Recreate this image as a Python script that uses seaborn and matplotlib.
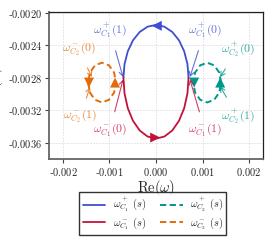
import matplotlib
matplotlib.use("Agg")
import matplotlib.pyplot as plt
import matplotlib.ticker as mticker
import seaborn as sns

# omega_C1^+ (s): upper arc, s=0 at right junction -> s=1 at left junction
c1p_re = [0.00070, 0.000676, 0.000606, 0.000495, 0.00035, 0.000181, 0.0,
          -0.000181, -0.00035, -0.000495, -0.000606, -0.000676, -0.00070]
c1p_im = [-0.00280, -0.002632, -0.002475, -0.00234, -0.002237, -0.002172, -0.00215,
          -0.002172, -0.002237, -0.00234, -0.002475, -0.002632, -0.00280]

# omega_C1^- (s): lower arc, s=0 at left junction -> s=1 at right junction
c1m_re = [-0.00070, -0.000676, -0.000606, -0.000495, -0.00035, -0.000181, 0.0,
          0.000181, 0.00035, 0.000495, 0.000606, 0.000676, 0.00070]
c1m_im = [-0.00280, -0.002994, -0.003175, -0.00333, -0.00345, -0.003524, -0.00355,
          -0.003524, -0.00345, -0.00333, -0.003175, -0.002994, -0.00280]

# omega_C2^+ (s): small loop on the right
c2p_re = [0.00140, 0.00136, 0.00125, 0.00110, 0.00095, 0.00084, 0.00080,
          0.00084, 0.00095, 0.00110, 0.00125, 0.00136, 0.00140]
c2p_im = [-0.00286, -0.002737, -0.002648, -0.002615, -0.002648, -0.002737, -0.00286,
          -0.002983, -0.003072, -0.003105, -0.003072, -0.002983, -0.00286]

# omega_C2^- (s): small loop on the left
c2m_re = [-0.00146, -0.00142, -0.00131, -0.00116, -0.00101, -0.00090, -0.00086,
          -0.00090, -0.00101, -0.00116, -0.00131, -0.00142, -0.00146]
c2m_im = [-0.00286, -0.002983, -0.003072, -0.003105, -0.003072, -0.002983, -0.00286,
          -0.002737, -0.002648, -0.002615, -0.002648, -0.002737, -0.00286]

x_ticks = [-0.002, -0.001, 0.0, 0.001, 0.002]
y_ticks = [-0.0036, -0.0032, -0.0028, -0.0024, -0.0020]

BLUE = "#3f4fce"
RED = "#c3123a"
TEAL = "#00978c"
ORANGE = "#e36c0a"

sns.set_theme(style="whitegrid")
plt.rcParams["font.family"] = ["DejaVu Serif"]
plt.rcParams["mathtext.fontset"] = "cm"

fig = plt.figure(figsize=(2.72, 2.43), dpi=100)
ax = fig.add_axes([0.180, 0.346, 0.787, 0.605])

sns.lineplot(x=c1p_re, y=c1p_im, sort=False, estimator=None, color=BLUE, lw=1.3, ax=ax)
sns.lineplot(x=c1m_re, y=c1m_im, sort=False, estimator=None, color=RED, lw=1.3, ax=ax)
sns.lineplot(x=c2p_re, y=c2p_im, sort=False, estimator=None, color=TEAL, lw=1.4,
             linestyle=(0, (3.2, 1.8)), ax=ax)
sns.lineplot(x=c2m_re, y=c2m_im, sort=False, estimator=None, color=ORANGE, lw=1.4,
             linestyle=(0, (3.2, 1.8)), ax=ax)


def head(xs, ys, i, prev, color):
    # arrowhead at point i, pointing along the curve
    tail = ((xs[prev] + xs[i]) / 2, (ys[prev] + ys[i]) / 2)
    tip = ((xs[i] + xs[i + 1]) / 2, (ys[i] + ys[i + 1]) / 2)
    ax.annotate("", xy=tip, xytext=tail,
                arrowprops=dict(arrowstyle="-|>,head_length=0.6,head_width=0.3",
                                color=color, lw=0, mutation_scale=12,
                                shrinkA=0, shrinkB=0))


head(c1p_re, c1p_im, 6, 5, BLUE)
head(c1m_re, c1m_im, 6, 5, RED)
head(c2p_re, c2p_im, 0, -2, TEAL)
head(c2p_re, c2p_im, 6, 5, TEAL)
head(c2m_re, c2m_im, 0, -2, ORANGE)
head(c2m_re, c2m_im, 6, 5, ORANGE)

# labels with pointer arrows
notes = [
    (r"$\omega^+_{C_1}(1)$", (-0.00071, -0.00279), (-0.00099, -0.00222), BLUE),
    (r"$\omega^+_{C_1}(0)$", (0.00073, -0.00279), (0.00105, -0.00222), BLUE),
    (r"$\omega^-_{C_1}(0)$", (-0.00071, -0.002825), (-0.00099, -0.00345), RED),
    (r"$\omega^-_{C_1}(1)$", (0.00073, -0.002825), (0.00105, -0.00345), RED),
    (r"$\omega^-_{C_2}(0)$", (-0.00138, -0.00279), (-0.00166, -0.002455), ORANGE),
    (r"$\omega^-_{C_2}(1)$", (-0.00142, -0.00292), (-0.00163, -0.00328), ORANGE),
    (r"$\omega^+_{C_2}(0)$", (0.00138, -0.00279), (0.00176, -0.002455), TEAL),
    (r"$\omega^+_{C_2}(1)$", (0.00138, -0.00291), (0.00176, -0.00328), TEAL),
]
for txt, tip, pos, col in notes:
    ax.annotate(txt, xy=tip, xytext=pos, ha="center", va="center", fontsize=8.5,
                color=col, alpha=0.8,
                arrowprops=dict(arrowstyle="->,head_length=0.35,head_width=0.2",
                                color=col, alpha=0.8, lw=0.8,
                                shrinkA=5, shrinkB=0))

ax.set_xlim(-0.0023, 0.0023)
ax.set_ylim(-0.0038, -0.00199)
ax.set_xticks(x_ticks)
ax.set_yticks(y_ticks)


def fmt(v, d):
    s = f"{abs(v):.{d}f}"
    return ("-" if v < -1e-12 else "") + f"${s}$"


ax.xaxis.set_major_formatter(mticker.FuncFormatter(lambda v, p: fmt(v, 3)))
ax.yaxis.set_major_formatter(mticker.FuncFormatter(lambda v, p: fmt(v, 4)))
ax.tick_params(axis="both", labelsize=7.5, length=3, width=0.8, color="#444444",
               direction="out", left=True, bottom=True, pad=2)
ax.grid(True, color="#dddddd", linestyle=(0, (2, 1.5)), lw=0.6)
ax.set_facecolor("white")
for side, sp in ax.spines.items():
    sp.set_visible(True)
    sp.set_color("#222222" if side in ("top", "right") else "#666666")
    sp.set_linewidth(0.9 if side in ("top", "right") else 1.3)

ax.set_xlabel(r"$\mathrm{Re}(\omega)$", fontsize=10.5, labelpad=0)
ax.set_ylabel(r"$\mathrm{Im}(\omega)$", fontsize=10.5, labelpad=2)

handles = ax.get_lines()[:4]
labels = [r"$\omega^+_{C_1}\ (s)$", r"$\omega^-_{C_1}\ (s)$",
          r"$\omega^+_{C_2}\ (s)$", r"$\omega^-_{C_2}\ (s)$"]
leg = fig.legend(handles, labels, loc="upper center", bbox_to_anchor=(0.562, 0.21),
                 ncol=2, fontsize=7.5, frameon=True, fancybox=False,
                 edgecolor="black", handlelength=2.2, columnspacing=1.35,
                 borderpad=0.3, labelspacing=0.08, handletextpad=0.7,
                 borderaxespad=0)
leg.get_frame().set_linewidth(1.0)

fig.savefig("out.png", dpi=100)
